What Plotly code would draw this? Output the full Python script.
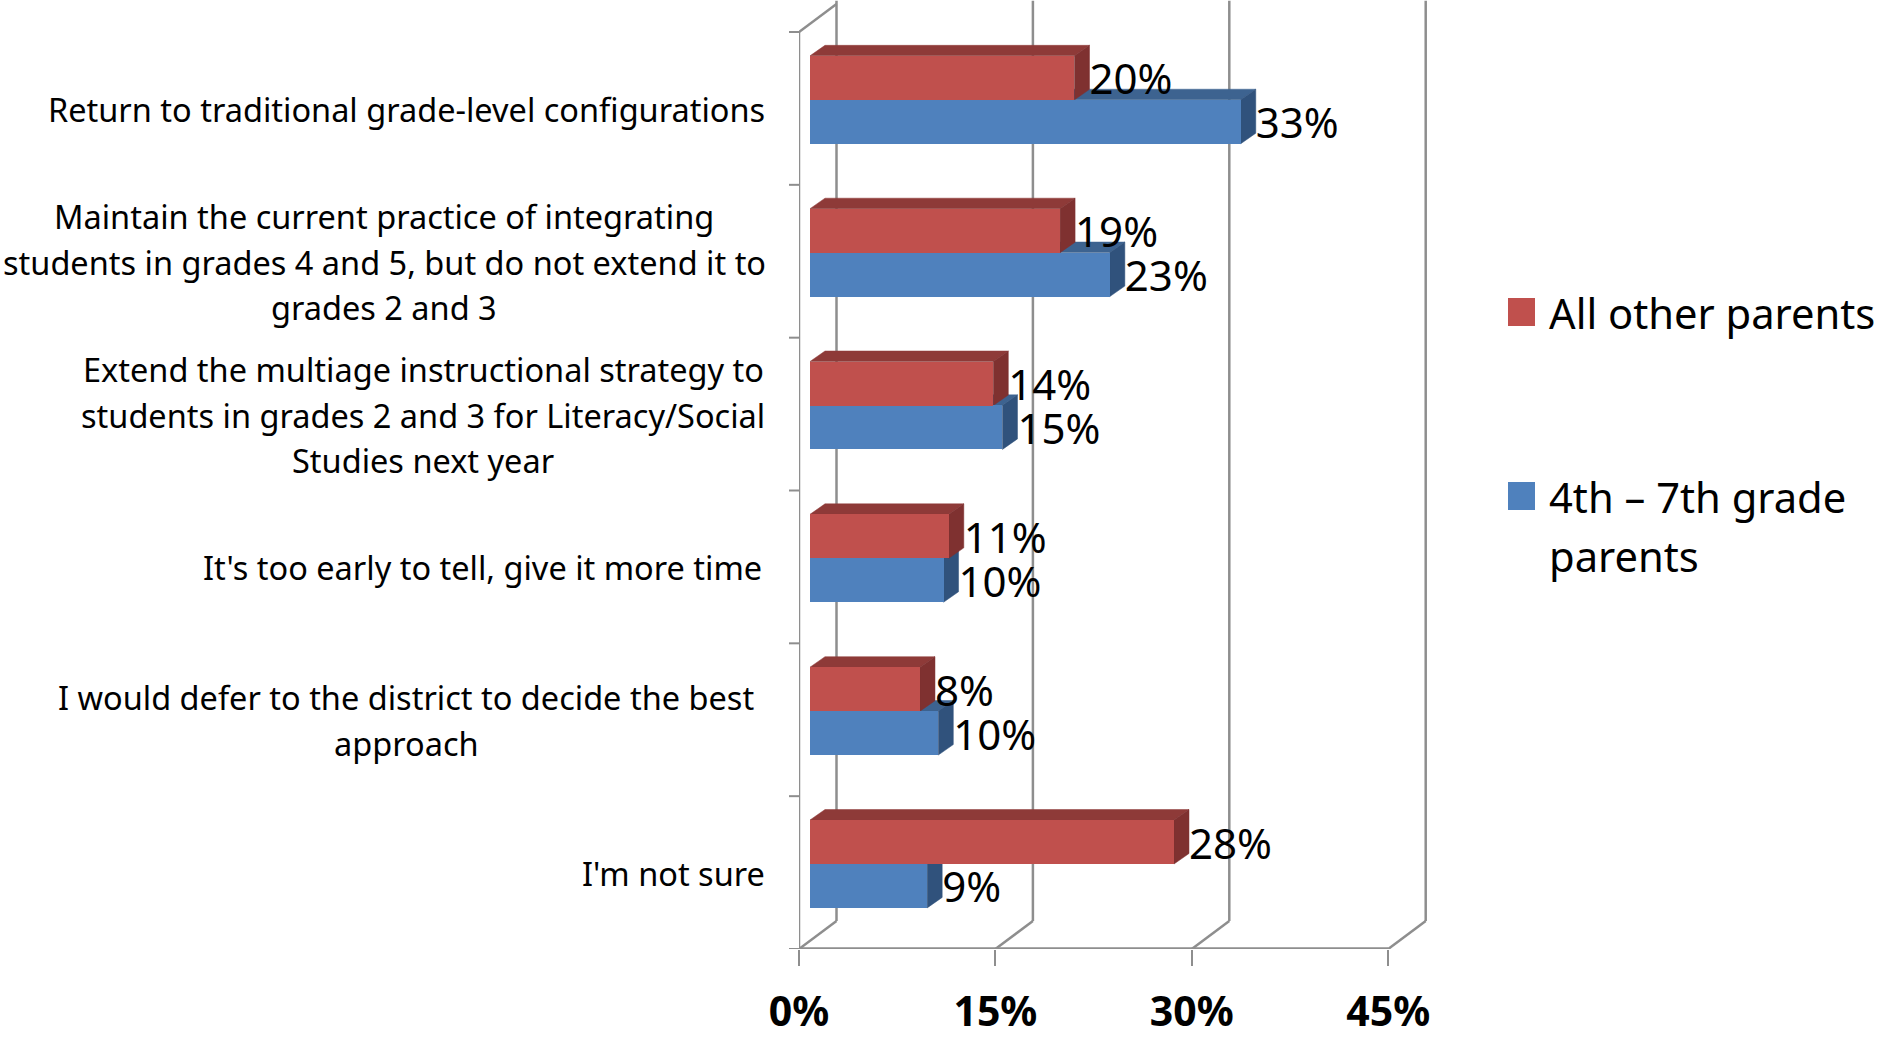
import plotly.graph_objects as go

# ---------- data ----------
categories = [
    ["Return to traditional grade-level configurations"],
    ["Maintain the current practice of integrating",
     "students in grades 4 and 5, but do not extend it to",
     "grades 2 and 3"],
    ["Extend the multiage instructional strategy to",
     "students in grades 2 and 3 for Literacy/Social",
     "Studies next year"],
    ["It's too early to tell, give it more time"],
    ["I would defer to the district to decide the best",
     "approach"],
    ["I'm not sure"],
]
label_centers_px = [406, 384, 423, 482, 406, 673]
other_parents = [20.2, 19.1, 14.0, 10.6, 8.4, 27.8]
grade_parents = [32.9, 22.9, 14.7, 10.2, 9.8, 8.95]
other_labels = ["20%", "19%", "14%", "11%", "8%", "28%"]
grade_labels = ["33%", "23%", "15%", "10%", "10%", "9%"]
x_ticks = [0, 15, 30, 45]
x_tick_labels = ["0%", "15%", "30%", "45%"]
positions = list(range(len(categories)))

# ---------- geometry ----------
W, H = 1884, 1037
AX_L, AX_R15 = 799, 196.4          # px of 0%, px per 15%
PX_X = AX_R15 / 15
PX_Y = 152.83
AX_TOP, AX_BOT = 32, 949
PLOT_R = 1440
x_max = (PLOT_R - AX_L) / PX_X
y_top = -0.5 - AX_TOP / PX_Y
WALL_DX, WALL_DY = 37.5 / PX_X, 28 / PX_Y
BAR_DX, BAR_DY = 15 / PX_X, 10.5 / PX_Y
BASE = 11 / PX_X
BAR_W = 0.288
RED_OFF, BLUE_OFF = -0.2, 0.087
LABEL_DROP = 6 / PX_Y

RED, RED_TOP, RED_SIDE = "#C0504D", "#8E3A38", "#7F3130"
BLUE, BLUE_TOP, BLUE_SIDE = "#4F81BD", "#3D6390", "#30527C"
GRID = "#8E8E8E"
FONT = "Noto Sans"

shapes = []


def line(x0, y0, x1, y1, width=2.5):
    shapes.append(dict(type="line", xref="x", yref="y", x0=x0, y0=y0, x1=x1, y1=y1,
                       layer="below", line=dict(color=GRID, width=width)))


# walls
y_bottom = 5.5
for t in x_ticks:
    line(t + WALL_DX, y_top + 0.005, t + WALL_DX, y_bottom - WALL_DY)
    line(t, y_bottom, t + WALL_DX, y_bottom - WALL_DY)
line(0, y_bottom, 0, -0.5)
line(0, -0.5, WALL_DX, -0.5 - WALL_DY)
line(0, y_bottom, 45, y_bottom, 3.5)
for i in range(7):
    shapes.append(dict(type="line", xref="paper", yref="y", x0=(AX_L - 10) / W, x1=AX_L / W,
                       y0=i - 0.5, y1=i - 0.5, layer="below", line=dict(color=GRID, width=2)))


def box(value, pos, top_col, side_col):
    x0, x1 = BASE, BASE + value
    yt, yb = pos - BAR_W / 2, pos + BAR_W / 2
    top = f"M{x0},{yt} L{x1},{yt} L{x1 + BAR_DX},{yt - BAR_DY} L{x0 + BAR_DX},{yt - BAR_DY} Z"
    side = f"M{x1},{yt} L{x1 + BAR_DX},{yt - BAR_DY} L{x1 + BAR_DX},{yb - BAR_DY} L{x1},{yb} Z"
    for path, col in ((top, top_col), (side, side_col)):
        shapes.append(dict(type="path", xref="x", yref="y", path=path, layer="below",
                           fillcolor=col, line=dict(color=col, width=0.5)))


for i in positions:
    box(grade_parents[i], i + BLUE_OFF, BLUE_TOP, BLUE_SIDE)
for i in positions:
    box(other_parents[i], i + RED_OFF, RED_TOP, RED_SIDE)

fig = go.Figure()
fig.add_trace(go.Bar(name="4th – 7th grade parents", orientation="h",
                     y=[p + BLUE_OFF for p in positions], x=grade_parents, base=BASE,
                     width=BAR_W, marker=dict(color=BLUE, line=dict(width=0)), showlegend=False))
fig.add_trace(go.Bar(name="All other parents", orientation="h",
                     y=[p + RED_OFF for p in positions], x=other_parents, base=BASE,
                     width=BAR_W, marker=dict(color=RED, line=dict(width=0)), showlegend=False))
fig.add_trace(go.Scatter(mode="text", showlegend=False,
                         x=[BASE + v + BAR_DX for v in other_parents],
                         y=[p + RED_OFF + LABEL_DROP for p in positions], text=other_labels,
                         textposition="middle right", textfont=dict(family=FONT, size=42, color="black")))
fig.add_trace(go.Scatter(mode="text", showlegend=False,
                         x=[BASE + v + BAR_DX for v in grade_parents],
                         y=[p + BLUE_OFF + LABEL_DROP for p in positions], text=grade_labels,
                         textposition="middle right", textfont=dict(family=FONT, size=42, color="black")))

annotations = []
LINE_GAP = 45.6
for i, lines in enumerate(categories):
    n = len(lines)
    for k, txt in enumerate(lines):
        annotations.append(dict(text=txt, xref="paper", yref="y", x=label_centers_px[i] / W, y=i,
                                xanchor="center", yanchor="middle", showarrow=False,
                                yshift=-(k - (n - 1) / 2) * LINE_GAP - 1,
                                font=dict(family=FONT, size=32.5, color="black")))

# legend
def legend_item(color, lines, ypx):
    shapes.append(dict(type="rect", xref="paper", yref="paper", x0=1508 / W, x1=1535 / W,
                       y0=1 - (ypx + 14) / H, y1=1 - (ypx - 14) / H, fillcolor=color, line=dict(width=0)))
    for k, txt in enumerate(lines):
        annotations.append(dict(text=txt, xref="paper", yref="paper", x=1547 / W,
                                y=1 - (ypx + k * 59) / H, xanchor="left", yanchor="middle",
                                showarrow=False, font=dict(family=FONT, size=41.7, color="black")))


legend_item(RED, ["All other parents"], 312)
legend_item(BLUE, ["4th – 7th grade", "parents"], 496)

fig.update_layout(
    width=W, height=H, margin=dict(l=0, r=0, t=0, b=0), autosize=False,
    paper_bgcolor="white", plot_bgcolor="white", barmode="overlay", bargap=0,
    shapes=shapes, annotations=annotations,
    font=dict(family=FONT, color="black"),
    xaxis=dict(domain=[AX_L / W, PLOT_R / W], range=[0, x_max], tickvals=x_ticks, automargin=False,
               ticktext=x_tick_labels, ticks="outside", ticklen=16, tickwidth=2, tickcolor=GRID,
               ticklabelstandoff=11, showgrid=False, zeroline=False, showline=False,
               tickfont=dict(family=FONT, size=41, color="black", weight="bold")),
    yaxis=dict(domain=[1 - AX_BOT / H, 1], range=[y_bottom, y_top], showticklabels=False, automargin=False,
               showgrid=False, zeroline=False, showline=False, ticks=""),
)
fig.write_html("out.html", config=dict(displayModeBar=False),
               post_script="document.body.style.margin='0';document.body.style.overflow='hidden';")
